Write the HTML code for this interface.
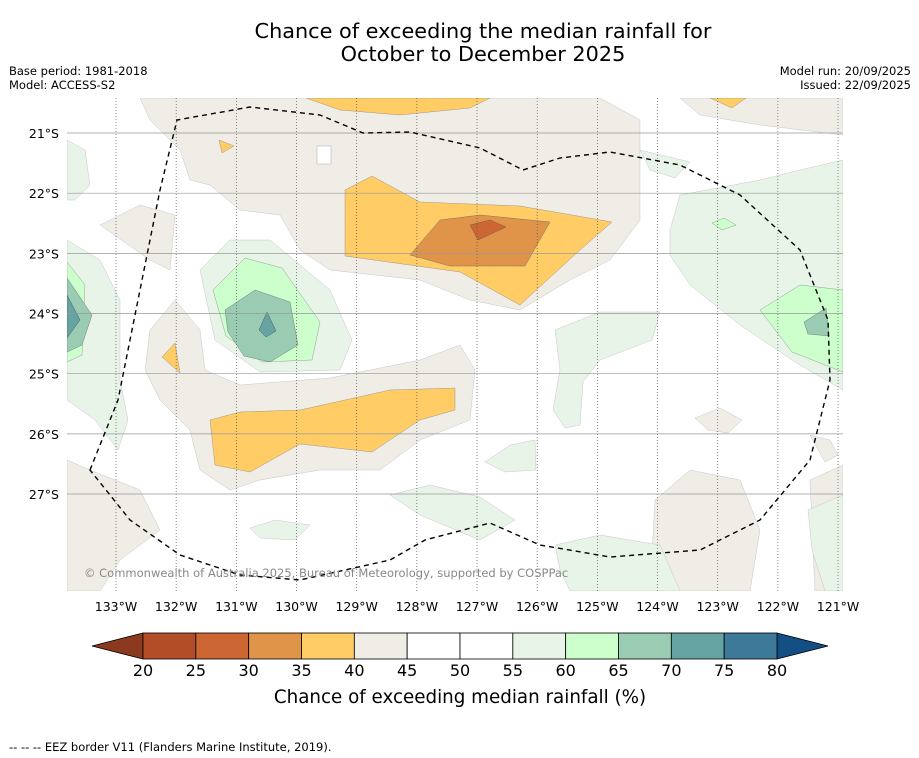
<!DOCTYPE html>
<html><head><meta charset="utf-8">
<style>
body{margin:0;background:#fff;width:919px;height:758px;overflow:hidden;font-family:"DejaVu Sans","Liberation Sans",sans-serif;}
svg{display:block}
</style></head>
<body>
<svg id="chart" width="919" height="758" viewBox="0 0 919 758" xmlns="http://www.w3.org/2000/svg" font-family="DejaVu Sans, Liberation Sans, sans-serif">
<rect width="919" height="758" fill="#fff"/>
<text x="483" y="38" font-size="20.8" text-anchor="middle">Chance of exceeding the median rainfall for</text>
<text x="483" y="61" font-size="20.8" text-anchor="middle">October to December 2025</text>
<text x="9" y="75" font-size="11.5">Base period: 1981-2018</text>
<text x="9" y="89" font-size="11.5">Model: ACCESS-S2</text>
<text x="911" y="75" font-size="11.5" text-anchor="end">Model run: 20/09/2025</text>
<text x="911" y="89" font-size="11.5" text-anchor="end">Issued: 22/09/2025</text>

<defs><clipPath id="mapclip"><rect x="67" y="98" width="776" height="493"/></clipPath></defs>
<g id="map" clip-path="url(#mapclip)">
<rect x="67" y="98" width="776" height="493" fill="#fff"/>
<g fill="#f0ece6" stroke="#bbb" stroke-width="0.4">
<path d="M140,98 L600,98 L640,120 L640,220 L610,260 L570,280 L520,310 L470,300 L420,280 L330,270 L300,250 L280,215 L240,210 L210,185 L190,180 L180,150 L150,120 Z"/>
<path d="M100,225 L140,205 L175,215 L170,270 L150,260 Z"/>
<path d="M150,330 L175,300 L200,330 L205,370 L240,385 L330,378 L420,360 L460,345 L475,370 L470,420 L420,440 L380,470 L320,470 L260,480 L230,490 L200,470 L190,430 L160,400 L145,370 Z"/>
<path d="M680,98 L843,98 L843,135 L760,125 L700,115 Z"/>
<path d="M655,500 L690,470 L740,480 L760,530 L750,591 L650,591 Z"/>
<path d="M810,480 L843,465 L843,591 L815,591 Z"/>
<path d="M695,418 L720,408 L742,420 L728,433 L708,430 Z"/>
<path d="M67,460 L90,470 L140,490 L160,530 L120,560 L100,591 L67,591 Z"/>
<path d="M810,435 L830,440 L838,455 L825,462 Z"/>
</g>
<g fill="#e8f4e8" stroke="#bbb" stroke-width="0.4">
<path d="M67,140 L85,150 L90,185 L75,200 L67,200 Z"/>
<path d="M67,240 L100,260 L120,300 L120,380 L128,420 L118,450 L95,420 L67,400 Z"/>
<path d="M200,270 L230,240 L270,240 L330,290 L352,340 L340,370 L260,372 L215,340 Z"/>
<path d="M670,230 L680,195 L760,180 L800,170 L843,160 L843,390 L795,362 L740,325 L690,285 L670,255 Z"/>
<path d="M640,150 L690,162 L675,178 L650,170 Z"/>
<path d="M555,330 L600,312 L660,312 L652,340 L600,360 L583,382 L580,425 L565,428 L553,410 L560,370 Z"/>
<path d="M390,495 L430,485 L480,497 L515,520 L480,540 L420,515 Z"/>
<path d="M485,462 L510,445 L535,440 L536,470 L505,472 Z"/>
<path d="M250,528 L275,520 L310,525 L295,540 L260,538 Z"/>
<path d="M555,545 L600,535 L660,545 L680,591 L570,591 L560,570 Z"/>
<path d="M808,510 L843,495 L843,591 L825,591 L812,550 Z"/>
</g>
<g fill="#ccffcc" stroke="#888" stroke-width="0.4">
<path d="M67,262 L85,285 L82,355 L67,362 Z"/>
<path d="M213,290 L245,258 L282,268 L320,322 L312,360 L262,362 L226,336 Z"/>
<path d="M760,310 L800,285 L843,290 L843,372 L792,352 Z"/>
<path d="M712,223 L724,218 L736,225 L722,230 Z"/>
</g>
<g fill="#99ccb3" stroke="#666" stroke-width="0.4">
<path d="M67,278 L92,315 L82,345 L67,352 Z"/>
<path d="M225,310 L255,290 L290,302 L298,345 L270,362 L244,356 L228,332 Z"/>
<path d="M804,322 L826,308 L829,336 L808,334 Z"/>
</g>
<g fill="#66a3a3" stroke="#444" stroke-width="0.4">
<path d="M67,295 L80,320 L67,338 Z"/>
<path d="M259,330 L267,312 L276,331 L266,337 Z"/>
</g>
<g fill="#ffcc66" stroke="#888" stroke-width="0.4">
<path d="M306,98 L490,98 L470,108 L400,115 L340,110 Z"/>
<path d="M710,98 L746,98 L732,108 Z"/>
<path d="M219,140 L234,146 L222,153 Z"/>
<path d="M345,190 L372,176 L420,202 L520,206 L612,222 L580,250 L520,305 L460,272 L345,256 Z"/>
<path d="M162,357 L175,343 L180,373 Z"/>
<path d="M210,420 L240,412 L300,410 L390,390 L455,388 L455,410 L420,420 L372,452 L300,444 L250,472 L215,465 Z"/>
</g>
<g fill="#e0944a" stroke="#666" stroke-width="0.4">
<path d="M410,255 L440,220 L480,215 L550,222 L525,266 L450,266 Z"/>
</g>
<g fill="#cc6633" stroke="#555" stroke-width="0.4">
<path d="M470,225 L490,220 L506,227 L478,240 Z"/>
</g>
<rect x="317" y="146" width="14" height="18" fill="#fff" stroke="#999" stroke-width="0.4"/>
<g id="grid"></g>
<path fill="none" stroke="#000" stroke-width="1.4" stroke-dasharray="5,4" d="M90,470 L118,400 L140,290 L160,190 L177,120 L250,107 L320,115 L363,133 L410,132 L480,148 L523,170 L560,158 L610,152 L680,165 L740,195 L800,250 L828,320 L830,380 L810,460 L760,520 L700,550 L610,557 L540,545 L490,523 L425,540 L390,560 L300,580 L240,575 L180,555 L130,520 Z"/>
<text x="84" y="577" font-size="11.5" fill="#888">© Commonwealth of Australia 2025, Bureau of Meteorology, supported by COSPPac</text>
</g>
<g id="axes"></g>
<g id="colorbar"></g>
<text x="460" y="703" font-size="18.3" text-anchor="middle">Chance of exceeding median rainfall (%)</text>
<text x="9" y="751" font-size="11.5">--  --  -- EEZ border V11 (Flanders Marine Institute, 2019).</text>
</svg>
<script>
const lonTicks=[133,132,131,130,129,128,127,126,125,124,123,122,121];
const latTicks=[21,22,23,24,25,26,27];
const cbLevels=[20,25,30,35,40,45,50,55,60,65,70,75,80];
const cbColors=["#b34d27","#cc6633","#e0944a","#ffcc66","#f0ece6","#ffffff","#ffffff","#e8f4e8","#ccffcc","#99ccb3","#66a3a3","#3d7a99"];
const NS="http://www.w3.org/2000/svg";
const xLon=l=>116+(133-l)*60.17;
const yLat=l=>133+(l-21)*60.17;
const xCb=v=>143+(v-20)*(777-143)/60;
function mk(t,a,p){const e=document.createElementNS(NS,t);for(const k in a)e.setAttribute(k,a[k]);p.appendChild(e);return e;}
const grid=document.getElementById('grid'),axes=document.getElementById('axes'),cb=document.getElementById('colorbar');
lonTicks.forEach(l=>{
 const ln=mk('line',{x1:xLon(l),x2:xLon(l),y1:98,y2:591,stroke:'#555','stroke-width':0.7,'stroke-dasharray':'1,2'},grid);
 
 
 const t=mk('text',{x:xLon(l),y:611,'font-size':12.5,'text-anchor':'middle'},axes);
 t.textContent=l+'°W';
 
 
});
latTicks.forEach(l=>{
 const ln=mk('line',{x1:67,x2:843,y1:yLat(l),y2:yLat(l),stroke:'#999','stroke-width':0.7},grid);
 
 
 const t=mk('text',{x:59,y:yLat(l)+5,'font-size':12.5,'text-anchor':'end'},axes);
 t.textContent=l+'°S';
 
 
});
const lt=mk('polygon',{points:`92,646 ${xCb(20)},633 ${xCb(20)},659`,fill:'#8b3a20',stroke:'#000','stroke-width':0.8},cb);


const rt=mk('polygon',{points:`828,646 ${xCb(80)},633 ${xCb(80)},659`,fill:'#134f85',stroke:'#000','stroke-width':0.8},cb);


cbColors.forEach((c,i)=>{
 const r=mk('rect',{x:xCb(cbLevels[i]),y:633,width:xCb(cbLevels[i+1])-xCb(cbLevels[i]),height:26,fill:c,stroke:'#000','stroke-width':0.8},cb);
 
 
});
cbLevels.forEach(v=>{
 const t=mk('text',{x:xCb(v),y:676,'font-size':16,'text-anchor':'middle'},cb);
 t.textContent=v;
 
 
});
</script>
</body></html>
